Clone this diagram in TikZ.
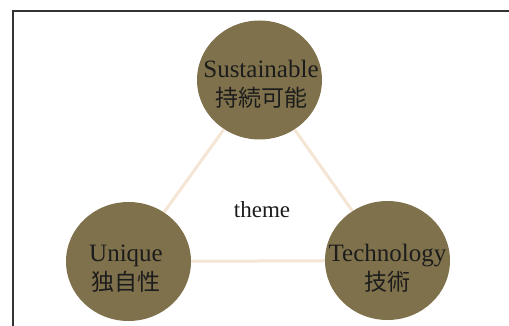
\documentclass[tikz,border=0pt]{standalone}
\usepackage{fontspec}
\usetikzlibrary{shapes.geometric}
\setmainfont{Liberation Serif}
\newfontfamily\jpfont{Noto Sans CJK JP}
\definecolor{olive}{HTML}{7F714B}
\definecolor{sand}{HTML}{F5E5D4}
\definecolor{ink}{HTML}{1C1C1C}
\newcommand{\jp}[1]{{\jpfont\fontsize{23}{29}\selectfont #1}}
\tikzset{
  pillar/.style={ellipse, fill=olive, minimum width=125pt, minimum height=119pt, inner sep=0pt},
  caption/.style={align=center, text=ink, inner sep=0pt, font=\fontsize{25}{29}\selectfont},
  link/.style={draw=sand, line width=3pt}
}
\begin{document}
\begin{tikzpicture}[x=1pt,y=-1pt]
\useasboundingbox (0,0) rectangle (509,326);
\draw[line width=2pt, draw=ink!90] (13,11) rectangle (530,350);

\node[pillar] (sust) at (259.5,80) {};
\node[pillar] (uniq) at (128.5,261.5) {};
\node[pillar] (tech) at (387.5,260.5) {};

\draw[link] (sust) -- (uniq);
\draw[link] (sust) -- (tech);
\draw[link] (uniq) -- (tech);

\node[caption] (susttxt) at (261,84) {Sustainable\\\jp{持続可能}};
\node[caption] (uniqtxt) at (126,269) {Unique\\\jp{独自性}};
\node[caption] (techtxt) at (387.5,268.5) {Technology\\\jp{技術}};

\node[text=ink, font=\fontsize{23}{27}\selectfont, anchor=base] (theme) at (262,218) {theme};
\end{tikzpicture}
\end{document}
